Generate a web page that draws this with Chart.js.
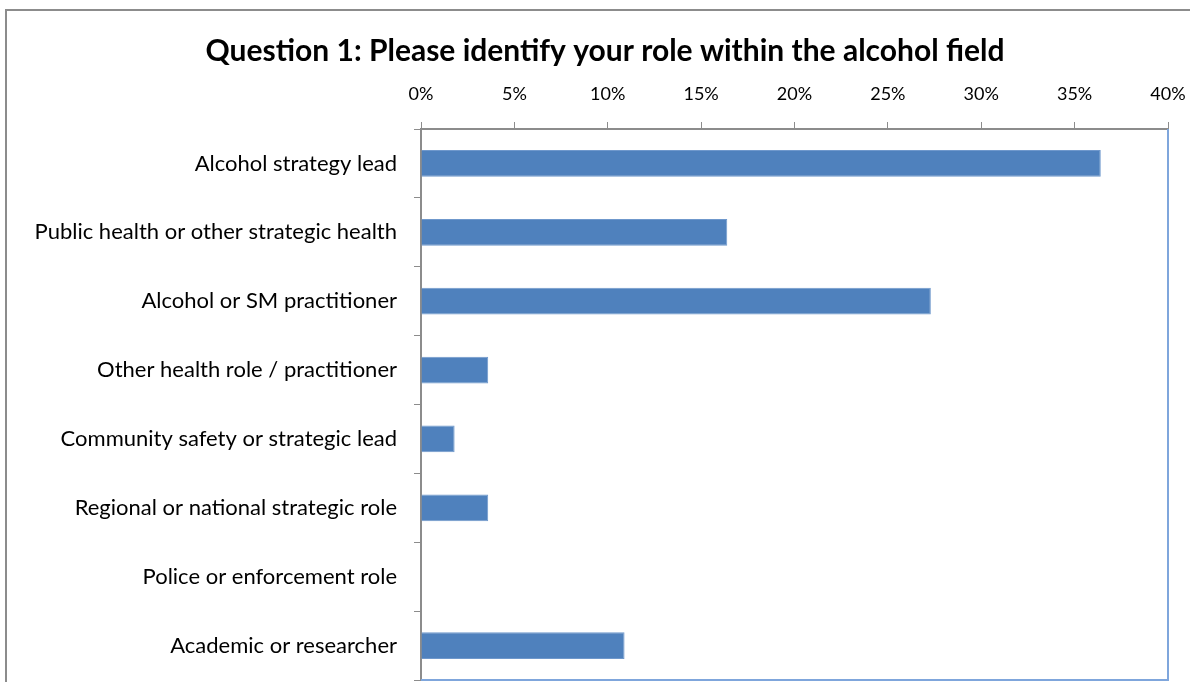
<!DOCTYPE html>
<html>
<head>
<meta charset="utf-8">
<script src="https://cdn.jsdelivr.net/npm/chart.js@4/dist/chart.umd.min.js"></script>
<style>
  html, body { margin: 0; padding: 0; background: #fff; overflow: hidden; }
  #wrap { position: absolute; left: 0; top: 0; width: 1190px; height: 682px; }
  #frame { position: absolute; left: 5px; top: 9px; width: 1200px; height: 700px; border: 2px solid #8c8c8c; box-sizing: border-box; pointer-events: none; }
</style>
</head>
<body>
<div id="wrap">
  <div id="frame"></div>
  <canvas id="c" width="1190" height="682"></canvas>
</div>
<script>
const titleText = "Question 1: Please identify your role within the alcohol field";
const categories = [
  "Alcohol strategy lead",
  "Public health or other strategic health",
  "Alcohol or SM practitioner",
  "Other health role / practitioner",
  "Community safety or strategic lead",
  "Regional or national strategic role",
  "Police or enforcement role",
  "Academic or researcher"
];
const values = [36.4, 16.4, 27.3, 3.6, 1.8, 3.6, 0, 10.9];
const xTicks = [0, 5, 10, 15, 20, 25, 30, 35, 40];

const FONT = "Lato, 'Open Sans', sans-serif";

const plotBorder = {
  id: 'plotBorder',
  afterLayout(chart) {
    if (chart.titleBlock) { chart.titleBlock.left += 42; }
  },
  afterDatasetsDraw(chart) {
    const {ctx, chartArea: a} = chart;
    ctx.save();
    ctx.strokeStyle = '#7fa6dc';
    ctx.lineWidth = 2;
    ctx.beginPath();
    ctx.moveTo(a.right, a.top);
    ctx.lineTo(a.right, a.bottom);
    ctx.lineTo(a.left, a.bottom);
    ctx.stroke();
    ctx.restore();
  }
};

new Chart(document.getElementById('c'), {
  type: 'bar',
  data: {
    labels: categories,
    datasets: [{
      data: values,
      backgroundColor: '#4f81bd',
      borderColor: '#6f98cc',
      borderWidth: 1,
      barPercentage: 0.78,
      categoryPercentage: 0.5
    }]
  },
  options: {
    indexAxis: 'y',
    responsive: false,
    animation: false,
    devicePixelRatio: 1,
    layout: { padding: { left: 0, top: 0, right: 22, bottom: 2 } },
    plugins: {
      legend: { display: false },
      tooltip: { enabled: false },
      title: {
        display: true,
        text: titleText,
        color: '#000',
        font: { family: FONT, size: 30, weight: 'bold' },
        padding: { top: 33, bottom: 0 }
      }
    },
    scales: {
      x: {
        position: 'top',
        min: 0,
        max: 40,
        afterBuildTicks(scale) { scale.ticks = xTicks.map(v => ({ value: v })); },
        afterFit(scale) {
          scale.height = 129 - 69;
          scale.paddingLeft = 0; scale.paddingRight = 0;
        },
        ticks: {
          callback: v => v + '%',
          color: '#000',
          font: { family: FONT, size: 18 },
          padding: 17,
          maxRotation: 0
        },
        grid: { drawOnChartArea: false, tickLength: 7, color: '#8c8c8c', lineWidth: 1 },
        border: { color: '#8c8c8c', width: 2 }
      },
      y: {
        afterFit(scale) {
          scale.width = 421;
          scale.paddingTop = 0; scale.paddingBottom = 0;
        },
        ticks: {
          color: '#000',
          font: { family: FONT, size: 22 },
          padding: 17
        },
        grid: { drawOnChartArea: false, offset: true, tickLength: 7, color: '#8c8c8c', lineWidth: 1 },
        border: { color: '#8c8c8c', width: 2 }
      }
    }
  },
  plugins: [plotBorder]
});
</script>
</body>
</html>
